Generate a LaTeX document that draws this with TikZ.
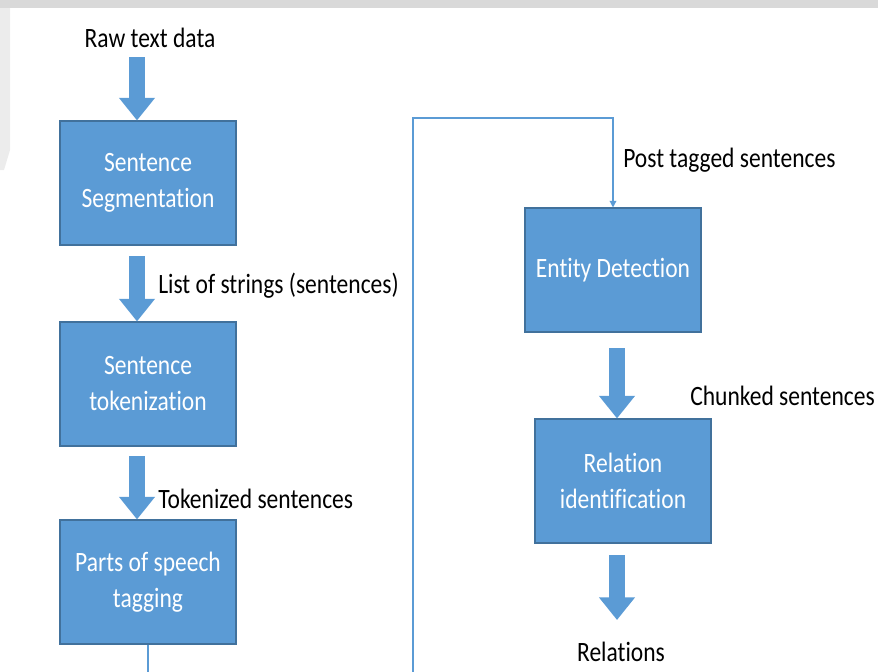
\documentclass[tikz,border=0pt]{standalone}
\usepackage{fontspec}
\setmainfont{Carlito}[FakeStretch=0.84,Ligatures=NoCommon]
\usepackage{xcolor}
\usepackage{tikz}
\usetikzlibrary{arrows.meta}
\definecolor{boxblue}{HTML}{5B9BD5}
\definecolor{edgeblue}{HTML}{41719C}
\definecolor{bggray}{HTML}{D9D9D9}
\tikzset{
  stage/.style={draw=edgeblue,line width=0.8pt,fill=boxblue,text=white,
    minimum width=132pt,minimum height=93pt,inner sep=0pt,align=center},
  blockarrow/.style={boxblue,line width=12pt,-{Triangle[width=26pt,length=17pt]}},
  link/.style={boxblue,line width=1pt,-{Triangle[width=5pt,length=5pt]}},
  lbl/.style={inner sep=0pt,anchor=base west}
}
\begin{document}
\begin{tikzpicture}[x=0.75pt,y=-0.75pt,font=\fontsize{21}{27}\selectfont]
\useasboundingbox(0,0)rectangle(878,671);
\fill[bggray](0,0)rectangle(878,8);
\fill[bggray!50](0,8)--(10,8)--(10,150)--(4,170)--(0,170)--cycle;
%%% left column
\node[stage](seg)at(148,183){Sentence\\Segmentation};
\node[stage](tok)at(148,384){Sentence\\tokenization};
\node[stage](pos)at(148,582){Parts of speech\\tagging};
\node[inner sep=0pt,anchor=base](raw)at(150,47){Raw text data};
\coordinate(a1)at(137,57);
\coordinate(a2)at(137,256);
\coordinate(a3)at(137,456);
\draw[blockarrow](a1)--(a1 |- seg.north);
\draw[blockarrow](a2)--(a2 |- tok.north);
\draw[blockarrow](a3)--(a3 |- pos.north);
\node[lbl](lst)at(158,293){List of strings (sentences)};
\node[lbl](tks)at(158,508){Tokenized sentences};
%%% right column
\node[stage](ent)at(613,270){Entity Detection};
\node[stage](rel)at(623,481){Relation\\identification};
\coordinate(low)at(413,700);
\coordinate(top)at(413,118);
\draw[link](pos.south)|-(low)--(top)-|(ent.north);
\node[lbl](pts)at(623,167){Post tagged sentences};
\coordinate(a5)at(617,348);
\coordinate(a6)at(617,555);
\draw[blockarrow](a5)--(a5 |- rel.north);
\draw[blockarrow](a6)--(617,620);
\node[lbl](chk)at(690,405){Chunked sentences};
\node[inner sep=0pt,anchor=base](out)at(621,661){Relations};
\end{tikzpicture}
\end{document}
